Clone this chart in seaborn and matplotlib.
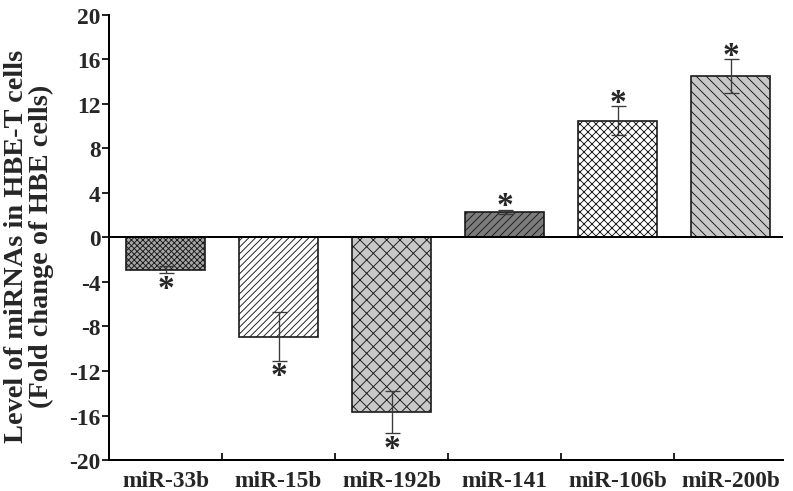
import numpy as np
import pandas as pd
import matplotlib
matplotlib.use('Agg')
import matplotlib.pyplot as plt
import seaborn as sns

# values
categories = ['miR-33b', 'miR-15b', 'miR-192b', 'miR-141', 'miR-106b', 'miR-200b']
values = [-2.9, -8.9, -15.7, 2.3, 10.5, 14.5]
errors = [0.3, 2.2, 1.9, 0.2, 1.3, 1.5]
fills = ['#a6a6a6', '#ffffff', '#c8c8c8', '#7c7c7c', '#ffffff', '#c8c8c8']
hatches = ['x' * 7, '/' * 6, 'x' * 3, '/' * 5, 'x' * 5, '\\' * 4]
y_ticks = list(range(-20, 21, 4))

sns.set_style('ticks')
plt.rcParams['font.family'] = ['Liberation Serif', 'DejaVu Serif']
plt.rcParams['font.weight'] = 'bold'
plt.rcParams['axes.unicode_minus'] = False
plt.rcParams['hatch.linewidth'] = 0.55

df = pd.DataFrame({'miRNA': categories, 'value': values, 'err': errors})

fig = plt.figure(figsize=(793 / 120, 492 / 120), dpi=120)
ax = fig.add_axes([0.1375, 0.063, 0.8495, 0.9045])

sns.barplot(data=df, x='miRNA', y='value', hue='miRNA', palette=fills,
            legend=False, width=0.7, edgecolor='#1a1a1a', linewidth=1.0,
            errorbar=None, ax=ax)
for patch, h in zip(ax.patches, hatches):
    patch.set_hatch(h)

ax.errorbar(np.arange(len(categories)), df['value'], yerr=df['err'],
            fmt='none', ecolor='#3a3a3a', elinewidth=0.8, capsize=4.5, capthick=0.8)

# significance stars beyond the error bar ends
for i, (v, e) in enumerate(zip(values, errors)):
    end = v + e if v > 0 else v - e
    off = 2.5 if v > 0 else -9
    ax.annotate('*', xy=(i, end), xytext=(0, off), textcoords='offset points',
                ha='center', va='center', fontsize=20, fontweight='bold')

ax.axhline(0, color='black', lw=1.2, zorder=3)

ax.set_xlim(-0.5, 5.46)
ax.set_ylim(-20, 20)
ax.set_yticks(y_ticks)
ax.set_xticks(range(len(categories)))
ax.set_xticks(np.arange(0.5, len(categories) - 1, 1), minor=True)
ax.tick_params(axis='x', which='major', length=0, labelsize=14, pad=6)
ax.tick_params(axis='x', which='minor', direction='in', length=4, width=1.2)
ax.tick_params(axis='y', direction='out', length=4, width=1.2, labelsize=14, pad=1)
for lab in ax.get_xticklabels() + ax.get_yticklabels():
    lab.set_fontweight('bold')

ax.set_xlabel('')
ax.set_ylabel('Level of miRNAs in HBE-T cells\n(Fold change of HBE cells)',
              fontsize=17, fontweight='bold', linespacing=1.0)
ax.yaxis.set_label_coords(-0.081, 0.482)

sns.despine(ax=ax)
for s in ['left', 'bottom']:
    ax.spines[s].set_linewidth(1.2)
    ax.spines[s].set_color('black')

fig.savefig('out.png', dpi=120)
